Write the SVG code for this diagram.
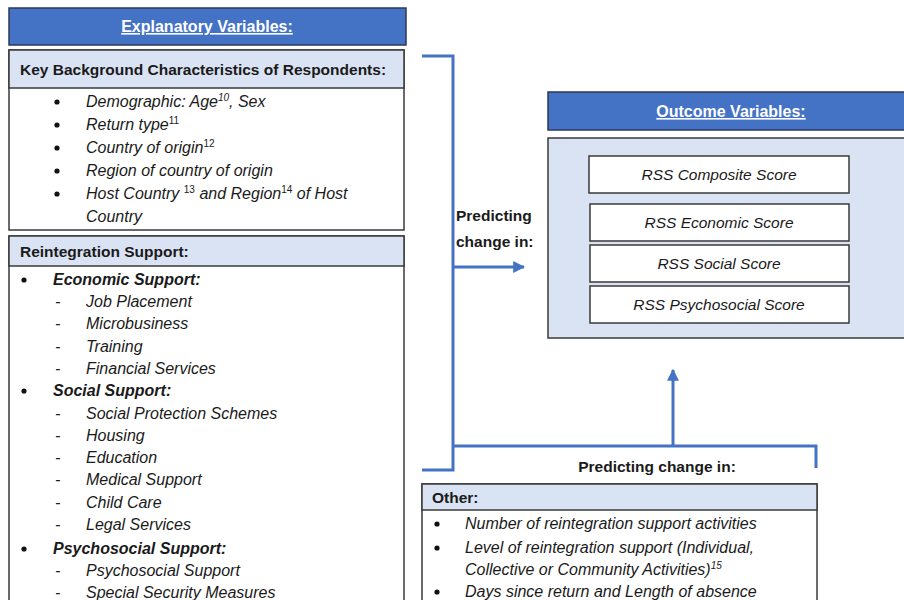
<svg xmlns="http://www.w3.org/2000/svg" width="904" height="600" viewBox="0 0 904 600">
<defs>
<style>
text{font-family:"Liberation Sans",Arial,sans-serif;fill:#1a1a1a}
.hdr{fill:#4472C4;stroke:#2b3a57;stroke-width:1.5}
.band{fill:#dae3f3;stroke:#3a3a3a;stroke-width:1.5}
.box{fill:#ffffff;stroke:#3a3a3a;stroke-width:1.5}
.ht{font-weight:bold;font-size:16px;fill:#ffffff;text-decoration:underline}
.bt{font-weight:bold;font-size:15.5px}
.it{font-style:italic;font-size:16px}
.bi{font-style:italic;font-weight:bold;font-size:16px}
.sc{font-style:italic;font-size:15.5px;text-anchor:middle}
.sup{font-size:10px}
.conn{fill:none;stroke:#4472C4;stroke-width:3}
</style>
<marker id="ah" viewBox="0 0 10 10" refX="9" refY="5" markerWidth="4" markerHeight="4" orient="auto" markerUnits="strokeWidth">
<path d="M0,0 L10,5 L0,10 z" fill="#4472C4"/>
</marker>
</defs>
<rect width="904" height="600" fill="#ffffff"/>

<g id="explanatory-header">
<rect class="hdr" x="9" y="8" width="397" height="37"/>
<text class="ht" x="207" y="32" text-anchor="middle">Explanatory Variables:</text>
</g>

<g id="key-background">
<rect class="box" x="9" y="50" width="395" height="180"/>
<rect class="band" x="9" y="50" width="395" height="38"/>
<text class="bt" x="20" y="75">Key Background Characteristics of Respondents:</text>
<circle cx="57" cy="102" r="2.6" fill="#111"/>
<text class="it" x="86" y="107">Demographic: Age<tspan class="sup" dy="-6">10</tspan><tspan dy="6">, Sex</tspan></text>
<circle cx="57" cy="125" r="2.6" fill="#111"/>
<text class="it" x="86" y="130">Return type<tspan class="sup" dy="-6" font-style="normal">11</tspan></text>
<circle cx="57" cy="148" r="2.6" fill="#111"/>
<text class="it" x="86" y="153">Country of origin<tspan class="sup" dy="-6" font-style="normal">12</tspan></text>
<circle cx="57" cy="171" r="2.6" fill="#111"/>
<text class="it" x="86" y="176">Region of country of origin</text>
<circle cx="57" cy="194" r="2.6" fill="#111"/>
<text class="it" x="86" y="199">Host Country <tspan class="sup" dy="-6" font-style="normal">13</tspan><tspan dy="6"> and Region</tspan><tspan class="sup" dy="-6" font-style="normal">14</tspan><tspan dy="6"> of Host</tspan></text>
<text class="it" x="86" y="222">Country</text>
</g>

<g id="reintegration-support">
<rect class="box" x="9" y="236" width="395" height="380"/>
<rect class="band" x="9" y="236" width="395" height="30"/>
<text class="bt" x="20" y="257">Reintegration Support:</text>
<circle cx="24" cy="280" r="2.6" fill="#111"/>
<text class="bi" x="53" y="285">Economic Support:</text>
<text class="it" x="55" y="307">-</text><text class="it" x="86" y="307">Job Placement</text>
<text class="it" x="55" y="329">-</text><text class="it" x="86" y="329">Microbusiness</text>
<text class="it" x="55" y="352">-</text><text class="it" x="86" y="352">Training</text>
<text class="it" x="55" y="374">-</text><text class="it" x="86" y="374">Financial Services</text>
<circle cx="24" cy="391" r="2.6" fill="#111"/>
<text class="bi" x="53" y="396">Social Support:</text>
<text class="it" x="55" y="419">-</text><text class="it" x="86" y="419">Social Protection Schemes</text>
<text class="it" x="55" y="441">-</text><text class="it" x="86" y="441">Housing</text>
<text class="it" x="55" y="463">-</text><text class="it" x="86" y="463">Education</text>
<text class="it" x="55" y="485">-</text><text class="it" x="86" y="485">Medical Support</text>
<text class="it" x="55" y="508">-</text><text class="it" x="86" y="508">Child Care</text>
<text class="it" x="55" y="530">-</text><text class="it" x="86" y="530">Legal Services</text>
<circle cx="24" cy="549" r="2.6" fill="#111"/>
<text class="bi" x="53" y="554">Psychosocial Support:</text>
<text class="it" x="55" y="576">-</text><text class="it" x="86" y="576">Psychosocial Support</text>
<text class="it" x="55" y="598">-</text><text class="it" x="86" y="598">Special Security Measures</text>
</g>

<g id="outcome-header">
<rect class="hdr" x="548" y="92" width="370" height="38"/>
<text class="ht" x="731" y="117" text-anchor="middle">Outcome Variables:</text>
</g>

<g id="outcome-body">
<rect class="band" x="548" y="138" width="370" height="200"/>
</g>
<g id="rss-composite">
<rect class="box" x="589" y="156" width="260" height="37"/>
<text class="sc" x="719" y="180">RSS Composite Score</text>
</g>
<g id="rss-economic">
<rect class="box" x="590" y="204" width="259" height="37"/>
<text class="sc" x="719" y="228">RSS Economic Score</text>
</g>
<g id="rss-social">
<rect class="box" x="590" y="245" width="259" height="37"/>
<text class="sc" x="719" y="269">RSS Social Score</text>
</g>
<g id="rss-psychosocial">
<rect class="box" x="590" y="286" width="259" height="37"/>
<text class="sc" x="719" y="310">RSS Psychosocial Score</text>
</g>

<g id="other">
<rect class="box" x="422" y="484" width="395" height="140"/>
<rect class="band" x="422" y="484" width="395" height="26"/>
<text class="bt" x="432" y="503">Other:</text>
<circle cx="437" cy="524" r="2.6" fill="#111"/>
<text class="it" x="465" y="529">Number of reintegration support activities</text>
<circle cx="437" cy="548" r="2.6" fill="#111"/>
<text class="it" x="465" y="553">Level of reintegration support (Individual,</text>
<text class="it" x="465" y="575">Collective or Community Activities)<tspan class="sup" dy="-6">15</tspan></text>
<circle cx="437" cy="592" r="2.6" fill="#111"/>
<text class="it" x="465" y="597">Days since return and Length of absence</text>
</g>

<g id="connectors">
<path class="conn" d="M422,56 H453 V470 H422"/>
<path class="conn" d="M453,267 H524" marker-end="url(#ah)"/>
<path class="conn" d="M453,446 H816 V468"/>
<path class="conn" d="M673,446 V370" marker-end="url(#ah)"/>
<text class="bt" x="456" y="221">Predicting</text>
<text class="bt" x="456" y="247">change in:</text>
<text class="bt" x="657" y="472" text-anchor="middle">Predicting change in:</text>
</g>
</svg>
